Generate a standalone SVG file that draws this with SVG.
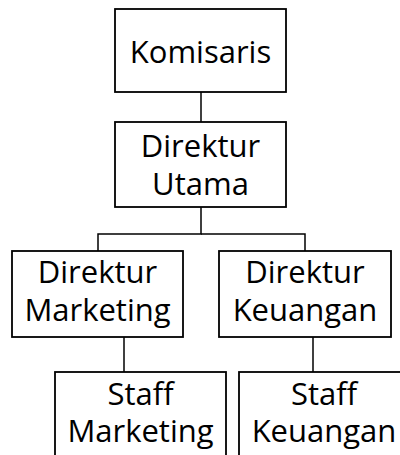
<svg xmlns="http://www.w3.org/2000/svg" width="400" height="455" viewBox="0 0 400 455">
<style>
.box{fill:#fff;stroke:#000;stroke-width:1.8}
.con{fill:none;stroke:#000;stroke-width:1.5}
text{font-family:"Open Sans","Noto Sans",sans-serif;font-size:31px;fill:#000;text-anchor:middle}
</style>
<rect width="400" height="455" fill="#fff"/>
<g id="connectors">
<line class="con" x1="201" y1="92" x2="201" y2="122"/>
<polyline class="con" points="201,207 201,234 98,234 98,251"/>
<polyline class="con" points="201,234 305,234 305,251"/>
<line class="con" x1="124" y1="337" x2="124" y2="372"/>
<line class="con" x1="313" y1="337" x2="313" y2="372"/>
</g>
<g id="komisaris">
<rect class="box" x="115" y="9" width="171" height="83"/>
<text x="200.5" y="63">Komisaris</text>
</g>
<g id="direktur-utama">
<rect class="box" x="115" y="122" width="171" height="85"/>
<text x="200.5" y="157">Direktur</text>
<text x="200.5" y="195">Utama</text>
</g>
<g id="direktur-marketing">
<rect class="box" x="12" y="251" width="171" height="86"/>
<text x="97.5" y="283">Direktur</text>
<text x="97.5" y="321">Marketing</text>
</g>
<g id="direktur-keuangan">
<rect class="box" x="219" y="251" width="172" height="86"/>
<text x="305" y="283">Direktur</text>
<text x="305" y="321">Keuangan</text>
</g>
<g id="staff-marketing">
<rect class="box" x="55" y="372" width="171" height="100"/>
<text x="140.5" y="405">Staff</text>
<text x="140.5" y="442">Marketing</text>
</g>
<g id="staff-keuangan">
<rect class="box" x="239" y="372" width="171" height="100"/>
<text x="324" y="405">Staff</text>
<text x="324" y="442">Keuangan</text>
</g>
</svg>
